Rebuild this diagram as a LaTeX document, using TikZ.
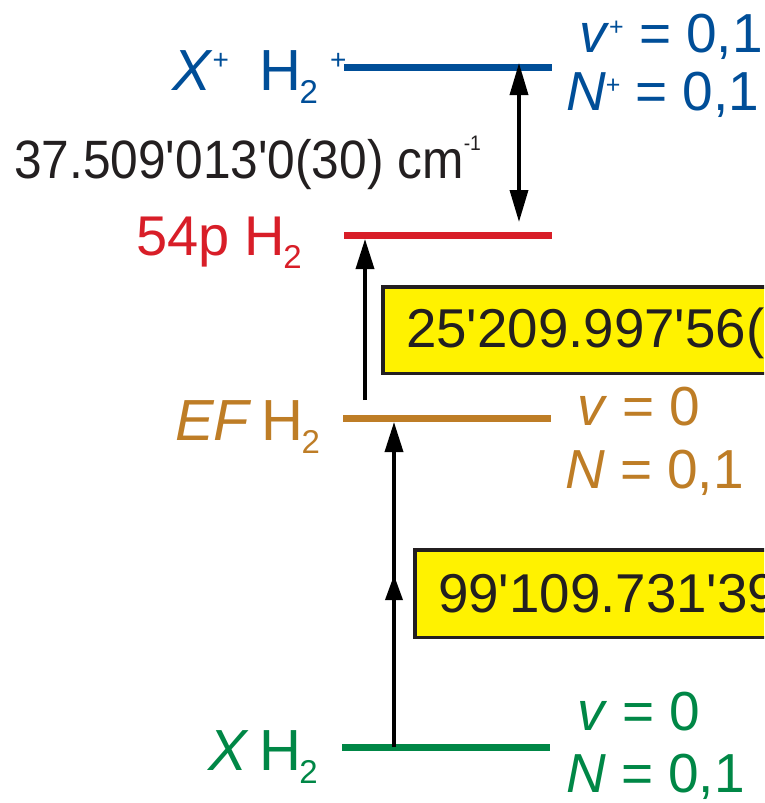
\documentclass[tikz,border=0pt]{standalone}
\usepackage{fontspec}
\setmainfont{Liberation Sans}
\newfontfamily\numfont[FakeStretch=0.92]{Liberation Sans}
\newfontfamily\boxfont{Liberation Sans}
\usetikzlibrary{arrows.meta}
\definecolor{ionblue}{RGB}{0,78,152}
\definecolor{rydred}{RGB}{216,30,40}
\definecolor{efbrown}{RGB}{190,125,38}
\definecolor{xgreen}{RGB}{0,135,70}
\definecolor{boxyellow}{RGB}{255,242,0}
\definecolor{inkblack}{RGB}{35,31,32}
\newcommand\subtwo{\kern-2pt\raisebox{-13pt}{\fontsize{33}{33}\selectfont 2}}
\newcommand\bigplus{\raisebox{21pt}{\fontsize{28}{28}\selectfont +}}
\newcommand\smallplus{\raisebox{17pt}{\fontsize{25}{25}\selectfont +}}
\tikzset{
  level/.style={rectangle, draw=none, minimum width=208pt, minimum height=7pt, inner sep=0pt, outer sep=0pt},
  lbl/.style={anchor=base west, inner sep=0pt, outer sep=0pt},
  leftlbl/.style={lbl, font=\fontsize{58}{58}\selectfont},
  rightlbl/.style={lbl, font=\fontsize{55}{55}\selectfont},
  numtxt/.style={lbl, text=inkblack, font=\numfont\fontsize{54}{54}\selectfont},
  boxtxt/.style={lbl, text=inkblack, font=\boxfont\fontsize{54.7}{55}\selectfont},
  ybox/.style={rectangle, draw=inkblack, line width=3.5pt, fill=boxyellow, inner sep=0pt, outer sep=0pt, anchor=north west, minimum width=420pt},
  arr/.style={line width=3.5pt, draw=black, -{Triangle[length=30pt,width=18pt]}},
  midarr/.style={line width=3.5pt, draw=black, -{Triangle[length=25pt,width=17pt]}},
  dblarr/.style={line width=3.5pt, draw=black, {Triangle[length=32pt,width=18pt]}-{Triangle[length=32pt,width=18pt]}}
}
\begin{document}
\begin{tikzpicture}[x=1pt,y=-1pt]
\useasboundingbox (0,0) rectangle (764,803);
\clip (0,0) rectangle (764,803);

% yellow boxes
\node[ybox, minimum height=86.5pt] (box1) at (383,287) {};
\node[ybox, minimum height=87.5pt] (box2) at (415,550) {};
\node[boxtxt] (t1) at (406,347) {25'209.997'56(};
\node[boxtxt] (t2) at (438,612) {99'109.731'39};

% levels
\node[level, fill=ionblue] (ion) at (448,67.5) {};
\node[level, fill=rydred] (ryd) at (448,235) {};
\node[level, fill=efbrown] (ef) at (447,418) {};
\node[level, fill=xgreen] (gs) at (446,747) {};

% arrows
\coordinate (a1top) at (519,63);
\coordinate (a1bot) at (519,222);
\draw[dblarr] (a1top) -- (a1bot);
\coordinate (a2tail) at (365,400);
\coordinate (a2tip) at (365,239);
\draw[arr] (a2tail) -- (a2tip);
\coordinate (a3tail) at (394,747);
\coordinate (a3mid) at (394,575);
\coordinate (a3tip) at (394,422);
\draw[arr] (a3tail) -- (a3tip);
\draw[midarr] (a3tail) -- (a3mid);

% left labels
\node[leftlbl, text=ionblue] (lion) at (172,90) {\textit{X}\bigplus\hspace{31pt}H\subtwo\hspace{12pt}\bigplus};
\node[leftlbl, text=rydred, font=\fontsize{56}{56}\selectfont] (lryd) at (136,255) {54p H\subtwo};
\node[leftlbl, text=efbrown] (lef) at (175,440) {\textit{EF}\hspace{10pt}H\subtwo};
\node[leftlbl, text=xgreen] (lgs) at (208,770) {\textit{X}\hspace{11pt}H\subtwo};

% energy interval label
\node[numtxt] (gap) at (14,178) {37.509'013'0(30) cm\raisebox{28pt}{\fontsize{21}{21}\selectfont -1}};

% right labels
\node[rightlbl, text=ionblue] (rv1) at (579,52) {\textit{v}\smallplus\ = 0,1};
\node[rightlbl, text=ionblue] (rn1) at (566,110) {\textit{N}\smallplus\ = 0,1};
\node[rightlbl, text=efbrown] (rv2) at (577,425) {\textit{v} = 0};
\node[rightlbl, text=efbrown] (rn2) at (565,488) {\textit{N} = 0,1};
\node[rightlbl, text=xgreen] (rv3) at (577,730) {\textit{v} = 0};
\node[rightlbl, text=xgreen] (rn3) at (566,792) {\textit{N} = 0,1};
\end{tikzpicture}
\end{document}
